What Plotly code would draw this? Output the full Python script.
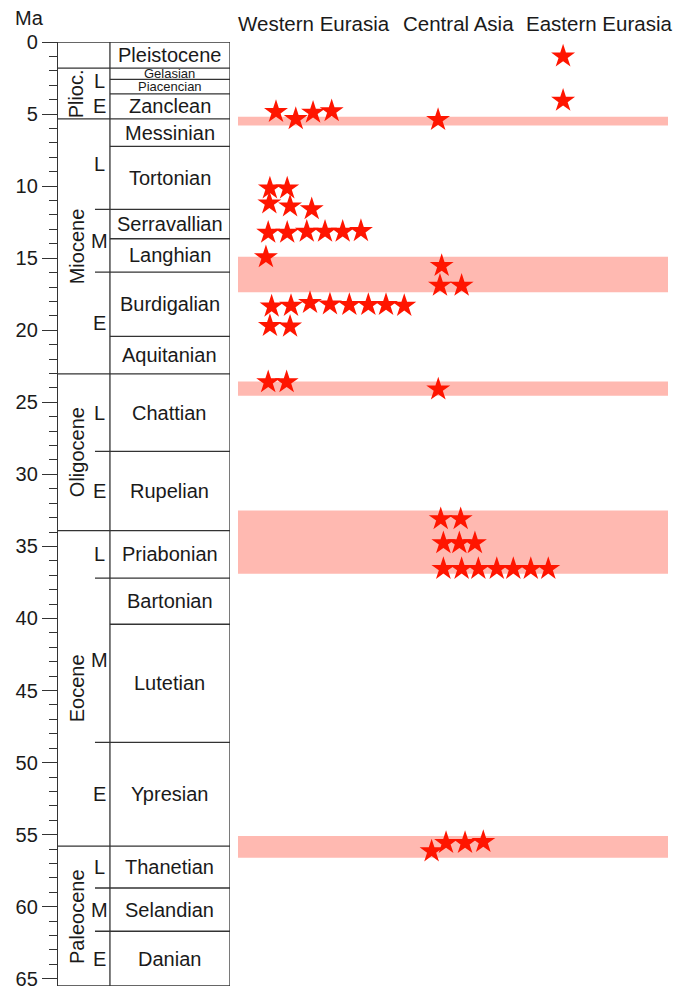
import plotly.graph_objects as go

# ---------------- data ----------------
stage_names = ["Pleistocene", "Gelasian", "Piacencian", "Zanclean", "Messinian", "Tortonian",
               "Serravallian", "Langhian", "Burdigalian", "Aquitanian", "Chattian", "Rupelian",
               "Priabonian", "Bartonian", "Lutetian", "Ypresian", "Thanetian", "Selandian", "Danian"]
stage_top = [0.0, 1.806, 2.588, 3.6, 5.332, 7.246, 11.608, 13.65, 15.97, 20.43, 23.03, 28.4,
             33.9, 37.2, 40.4, 48.6, 55.8, 58.7, 61.7]
stage_base = [1.806, 2.588, 3.6, 5.332, 7.246, 11.608, 13.65, 15.97, 20.43, 23.03, 28.4, 33.9,
              37.2, 40.4, 48.6, 55.8, 58.7, 61.7, 65.5]
small_stages = ["Gelasian", "Piacencian"]

epoch_names = ["", "Plioc.", "Miocene", "Oligocene", "Eocene", "Paleocene"]
epoch_top = [0.0, 1.806, 5.332, 23.03, 33.9, 55.8]
epoch_base = [1.806, 5.332, 23.03, 33.9, 55.8, 65.5]

sub_names = ["L", "E", "L", "M", "E", "L", "E", "L", "M", "E", "L", "M", "E"]
sub_top = [1.806, 3.6, 5.332, 11.608, 15.97, 23.03, 28.4, 33.9, 37.2, 48.6, 55.8, 58.7, 61.7]
sub_base = [3.6, 5.332, 11.608, 15.97, 23.03, 28.4, 33.9, 37.2, 48.6, 55.8, 58.7, 61.7, 65.5]
sub_lines = [11.608, 15.97, 28.4, 37.2, 48.6, 58.7, 61.7]

age_ticks = list(range(0, 66, 5))

region_names = ["Western Eurasia", "Central Asia", "Eastern Eurasia"]
region_center = [4.0, 11.63, 19.0]

band_top = [5.18, 14.9, 23.55, 32.5, 55.1]
band_base = [5.8, 17.36, 24.55, 36.9, 56.6]

we_age = [4.85, 5.34, 4.9, 4.8,
          10.15, 10.15,
          11.19, 11.4, 11.6,
          13.23, 13.23, 13.16, 13.16, 13.16, 13.11,
          14.93,
          18.35, 18.3, 18.1, 18.2, 18.24, 18.24, 18.24, 18.3,
          19.7, 19.74,
          23.6, 23.6]
we_x = [2.0, 3.04, 3.95, 4.93,
        1.68, 2.59,
        1.65, 2.74, 3.88,
        1.59, 2.59, 3.62, 4.58, 5.51, 6.47,
        1.47,
        1.77, 2.79, 3.79, 4.84, 5.86, 6.86, 7.79, 8.75,
        1.68, 2.74,
        1.59, 2.56]

ca_age = [5.4,
          15.53, 16.9, 16.9,
          24.1,
          33.1, 33.1,
          34.77, 34.77, 34.77,
          36.55, 36.55, 36.55, 36.55, 36.55, 36.55, 36.55,
          56.15, 55.57, 55.57, 55.5]
ca_x = [10.53,
        10.72, 10.63, 11.77,
        10.54,
        10.67, 11.72,
        10.81, 11.65, 12.47,
        10.81, 11.77, 12.65, 13.62, 14.49, 15.41, 16.33,
        10.19, 10.95, 11.95, 12.91]

ee_age = [1.0, 4.07]
ee_x = [17.11, 17.11]

# ---------------- figure ----------------
FONT = "Liberation Sans, Arial, Helvetica, sans-serif"
TXT = "#1a1a1a"
LINE = "#333333"
STAR = "#ff1500"
BAND = "#ffb9b1"

W, H = 685, 987
OFF = 8  # page offset of the figure inside the browser window

COL_SUB = 0.215    # start of partial subepoch lines
COL_STAGE = 0.302  # start of stage column
X_EPOCH = 0.11
X_SUB = 0.244
X_STAGE = (COL_STAGE + 1) / 2
AGE_MAX = stage_base[-1]

fig = go.Figure()

for ages, xs in [(we_age, we_x), (ca_age, ca_x), (ee_age, ee_x)]:
    fig.add_trace(go.Scatter(
        x=xs, y=ages, mode="markers", xaxis="x2", yaxis="y",
        marker=dict(symbol="star", size=18, color=STAR, line=dict(width=0)),
        showlegend=False, hoverinfo="skip"))

fig.add_trace(go.Scatter(x=[0, 1], y=[0, AGE_MAX], mode="markers", xaxis="x", yaxis="y",
                         marker=dict(opacity=0), showlegend=False, hoverinfo="skip"))

shapes = []
for t, b in zip(band_top, band_base):
    shapes.append(dict(type="rect", xref="x2 domain", yref="y", x0=0, x1=1, y0=t, y1=b,
                       fillcolor=BAND, line=dict(width=0), layer="below"))

lw = 1.3
ep_bounds = sorted(set(epoch_top + epoch_base))
for a in ep_bounds:
    shapes.append(dict(type="line", xref="x", yref="y", x0=0, x1=1, y0=a, y1=a,
                       line=dict(color=LINE, width=lw)))
for a in sub_lines:
    shapes.append(dict(type="line", xref="x", yref="y", x0=COL_SUB, x1=1, y0=a, y1=a,
                       line=dict(color=LINE, width=lw)))
for a in stage_top[1:]:
    if a in ep_bounds or a in sub_lines:
        continue
    shapes.append(dict(type="line", xref="x", yref="y", x0=COL_STAGE, x1=1, y0=a, y1=a,
                       line=dict(color=LINE, width=lw)))
for xv in [COL_STAGE, 1]:
    shapes.append(dict(type="line", xref="x", yref="y", x0=xv, x1=xv, y0=0, y1=AGE_MAX,
                       line=dict(color=LINE, width=lw)))

annotations = []
for name, t, b in zip(stage_names, stage_top, stage_base):
    small = name in small_stages
    annotations.append(dict(text=name, x=X_STAGE, y=(t + b) / 2, xref="x", yref="y",
                            showarrow=False,
                            font=dict(family=FONT, size=13 if small else 20, color=TXT),
                            borderpad=0 if small else 1,
                            xanchor="center", yanchor="middle"))
for name, t, b in zip(epoch_names, epoch_top, epoch_base):
    if not name:
        continue
    annotations.append(dict(text=name, x=X_EPOCH, y=(t + b) / 2, xref="x", yref="y",
                            showarrow=False, textangle=-90,
                            font=dict(family=FONT, size=20, color=TXT),
                            xanchor="center", yanchor="middle"))
for name, t, b in zip(sub_names, sub_top, sub_base):
    annotations.append(dict(text=name, x=X_SUB, y=(t + b) / 2, xref="x", yref="y",
                            showarrow=False, font=dict(family=FONT, size=20, color=TXT),
                            xanchor="center", yanchor="middle"))
for name, xc in zip(region_names, region_center):
    annotations.append(dict(text=name, x=xc, y=1, xref="x2", yref="paper",
                            xanchor="center", yanchor="middle",
                            yshift=19, showarrow=False,
                            font=dict(family=FONT, size=20.5, color=TXT)))
annotations.append(dict(text="Ma", x=(29 - OFF) / W, xref="paper", y=1, yref="paper",
                        xanchor="center", yanchor="middle", yshift=24, showarrow=False,
                        font=dict(family=FONT, size=20, color=TXT)))

fig.update_layout(
    width=W, height=H,
    margin=dict(l=0, r=0, t=42 - OFF, b=H - (986 - OFF)),
    paper_bgcolor="white", plot_bgcolor="white",
    shapes=shapes, annotations=annotations,
    xaxis=dict(domain=[(58 - OFF) / W, (230 - OFF) / W], range=[0, 1], visible=False),
    xaxis2=dict(domain=[(238 - OFF) / W, (668 - OFF) / W], range=[0, 430 / 19],
                visible=False, anchor="y"),
    yaxis=dict(range=[AGE_MAX, 0], anchor="x", showgrid=False, zeroline=False,
               showline=True, linecolor=LINE, linewidth=lw,
               tickmode="array", tickvals=age_ticks, ticktext=[str(v) for v in age_ticks],
               ticks="outside", ticklen=15, tickwidth=lw, tickcolor=LINE,
               tickfont=dict(family=FONT, size=20, color=TXT),
               minor=dict(dtick=1, tick0=0, ticks="outside", ticklen=8, tickwidth=1,
                          tickcolor=LINE, showgrid=False)),
    showlegend=False,
)

fig.write_html("out.html")
